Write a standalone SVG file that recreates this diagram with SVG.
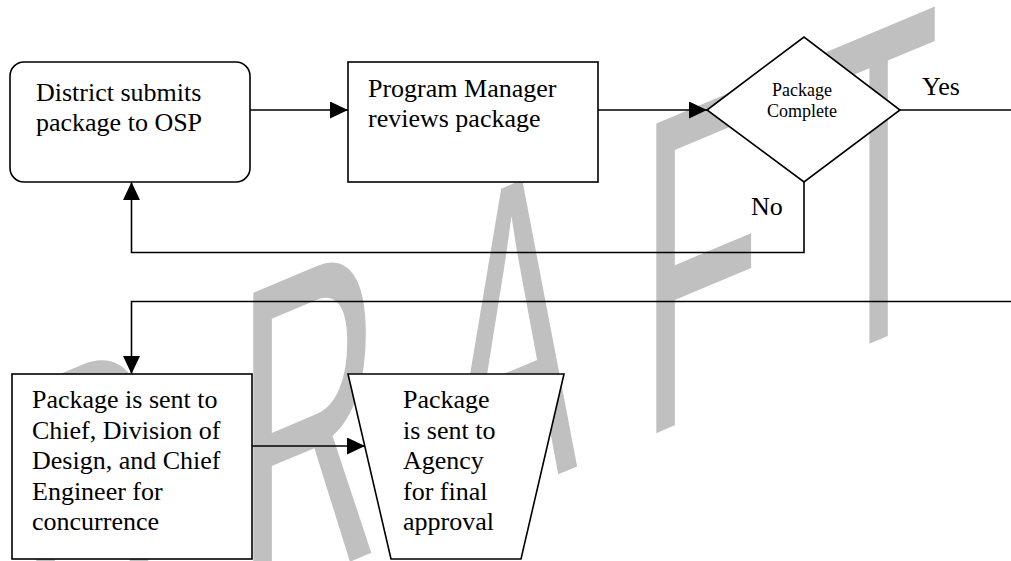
<svg xmlns="http://www.w3.org/2000/svg" width="1011" height="561" viewBox="0 0 1011 561">
<style>
.wm{font-family:"Liberation Sans",Arial,sans-serif;font-size:450px;fill:#c0c0c0}
.shape{fill:#fff;stroke:#000;stroke-width:1.6}
.t{font-family:"Liberation Serif","Times New Roman",serif;font-size:26px;fill:#000}
.s{font-family:"Liberation Serif","Times New Roman",serif;font-size:18px;fill:#000}
.c{fill:none;stroke:#000;stroke-width:1.6}
</style>
<defs>
<marker id="arr" markerUnits="userSpaceOnUse" markerWidth="18" markerHeight="17" refX="18" refY="8.5" orient="auto">
<path d="M0,0 L18,8.5 L0,17 Z" fill="#000"/>
</marker>
</defs>
<g id="watermark">
<text class="wm" transform="translate(640,440) skewY(-22.78) scale(0.4416,1)"><tspan x="-1404">D</tspan><tspan x="-912.6">R</tspan><tspan x="-441.6">A</tspan><tspan x="0">F</tspan><tspan x="403">T</tspan></text>
</g>
<g id="n1">
<rect class="shape" x="10" y="62" width="240" height="120" rx="14" ry="14"/>
<text class="t" x="36" y="101">District submits</text>
<text class="t" x="36" y="131">package to OSP</text>
</g>
<g id="n2">
<rect class="shape" x="348" y="62" width="250" height="120"/>
<text class="t" x="368" y="97">Program Manager</text>
<text class="t" x="368" y="127">reviews package</text>
</g>
<g id="n3">
<path class="shape" d="M707,110 L804,37 L900,110 L804,182 Z"/>
<text class="s" x="802" y="96" text-anchor="middle">Package</text>
<text class="s" x="802" y="117" text-anchor="middle">Complete</text>
</g>
<g id="n4">
<rect class="shape" x="12" y="374" width="240" height="185"/>
<text class="t" x="32" y="408">Package is sent to</text>
<text class="t" x="32" y="438.5">Chief, Division of</text>
<text class="t" x="32" y="469">Design, and Chief</text>
<text class="t" x="32" y="499.5">Engineer for</text>
<text class="t" x="32" y="530">concurrence</text>
</g>
<g id="n5">
<path class="shape" d="M348,374 L564,374 L521,559 L391,559 Z"/>
<text class="t" x="403" y="408">Package</text>
<text class="t" x="403" y="438.5">is sent to</text>
<text class="t" x="403" y="469">Agency</text>
<text class="t" x="403" y="499.5">for final</text>
<text class="t" x="403" y="530">approval</text>
</g>
<g id="connectors">
<path class="c" d="M250,110 H348" marker-end="url(#arr)"/>
<path class="c" d="M598,110 H707" marker-end="url(#arr)"/>
<path class="c" d="M900,110 H1011"/>
<path class="c" d="M804,182 V252.5 H131.5 V182" marker-end="url(#arr)"/>
<path class="c" d="M1011,301.5 H131.5 V374" marker-end="url(#arr)"/>
<path class="c" d="M252,446 H365" marker-end="url(#arr)"/>
<text class="t" x="922" y="95">Yes</text>
<text class="t" x="751" y="215">No</text>
</g>
</svg>
